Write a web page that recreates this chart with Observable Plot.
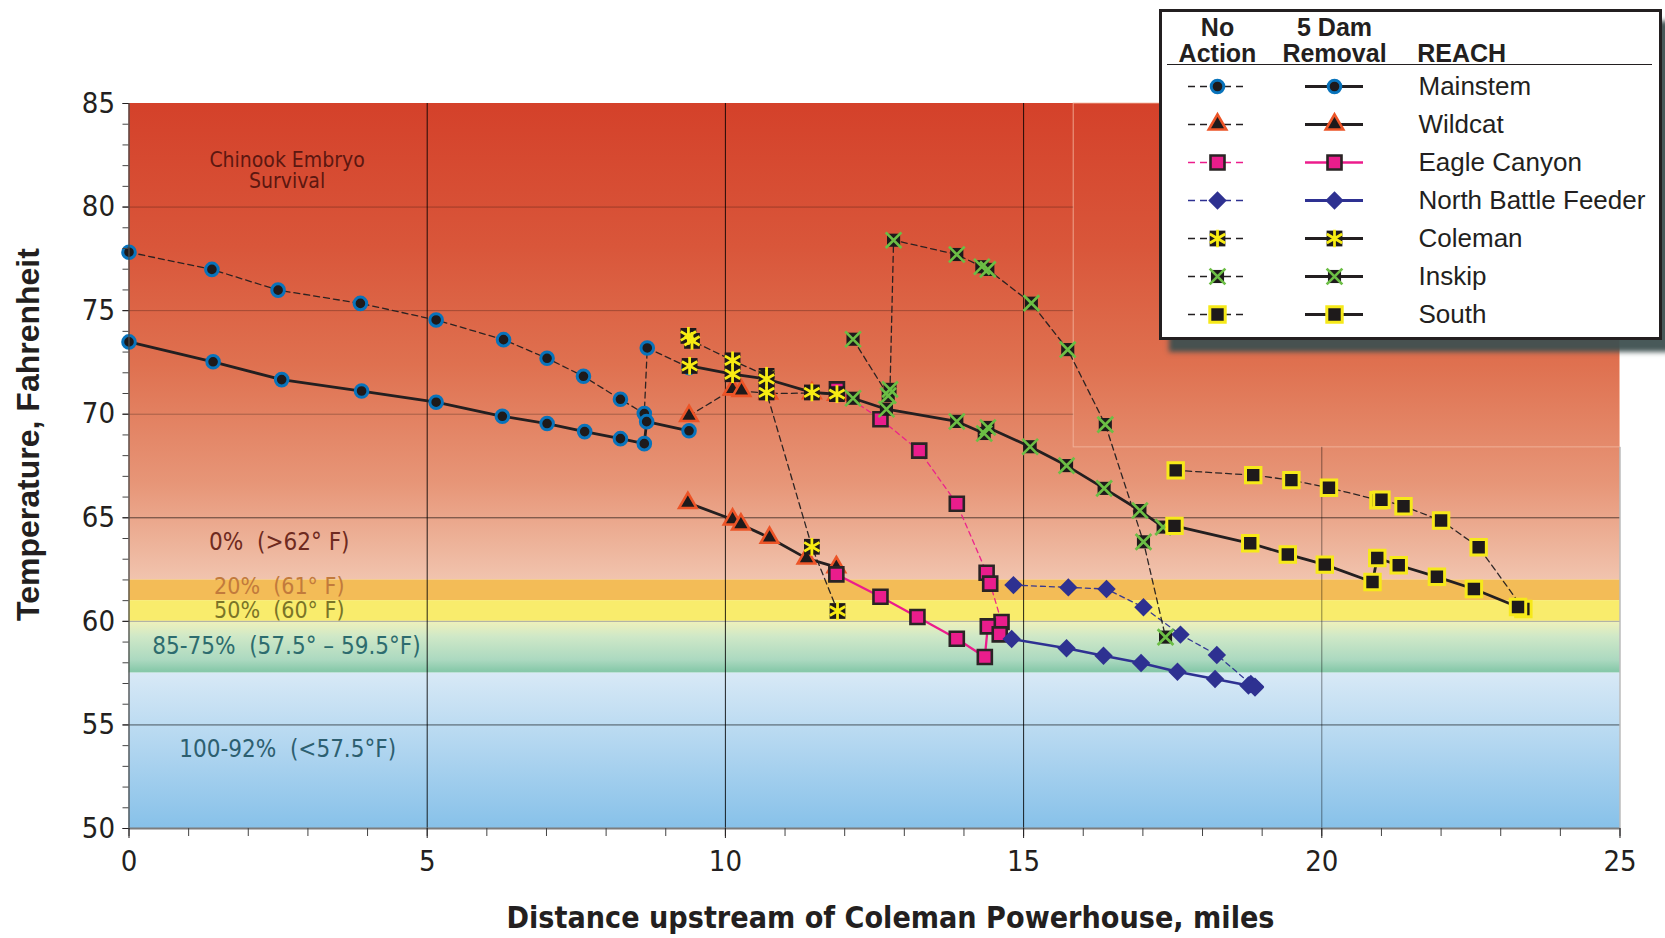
<!DOCTYPE html>
<html><head><meta charset="utf-8">
<script src="https://cdn.jsdelivr.net/npm/d3@7"></script>
<script src="https://cdn.jsdelivr.net/npm/@observablehq/plot@0.6"></script>
<style>
body{margin:0;background:#fff;}
#wrap{position:relative;width:1665px;height:938px;overflow:hidden;background:#fff;}
#chart{position:absolute;left:0;top:0;}
#chart text,#legend text{white-space:pre;}
#legend{position:absolute;left:1159px;top:9px;width:497px;height:325px;border:3px solid #231f20;background:#fff;box-shadow:10px 12px 5px rgba(62,80,80,0.95);}
#legend .hr{position:absolute;left:5px;top:51.5px;width:485px;height:1.6px;background:#231f20;}
#legend svg{position:absolute;left:0;top:0;}
</style></head><body>
<svg width="0" height="0" style="position:absolute"><defs>
<linearGradient id="gRed" x1="0" y1="0" x2="0" y2="1">
<stop offset="0" stop-color="#d4412a"/><stop offset="0.3" stop-color="#d9563a"/><stop offset="0.55" stop-color="#df7150"/><stop offset="0.8" stop-color="#e79678"/><stop offset="1" stop-color="#f1c4ae"/>
</linearGradient>
<linearGradient id="gGreen" x1="0" y1="0" x2="0" y2="1">
<stop offset="0" stop-color="#f0f1ba"/><stop offset="0.3" stop-color="#cfe8c7"/><stop offset="0.75" stop-color="#acd9c0"/><stop offset="0.96" stop-color="#88c9aa"/><stop offset="1" stop-color="#86c8a8"/>
</linearGradient>
<linearGradient id="gBlue" x1="0" y1="0" x2="0" y2="1">
<stop offset="0" stop-color="#d8e9f6"/><stop offset="1" stop-color="#87c1e9"/>
</linearGradient>
</defs></svg>
<div id="wrap"><div id="chart"></div><div id="legend"><div class="hr"></div></div></div>
<script>
// ---------- data (distance in miles, temperature in °F) ----------
const reaches = ["Mainstem","Wildcat","Eagle Canyon","North Battle Feeder","Coleman","Inskip","South"];
const scenarios = ["No Action","5 Dam Removal"];

const mainstemNoAction   = [[0,77.82],[1.39,76.99],[2.5,75.99],[3.88,75.35],[5.15,74.55],[6.28,73.6],[7.01,72.7],[7.62,71.83],[8.24,70.72],[8.64,70.03],[8.69,73.2],[9.39,72.25]];
const mainstemDamRemoval = [[0,73.49],[1.41,72.53],[2.56,71.67],[3.9,71.12],[5.15,70.58],[6.26,69.9],[7.01,69.55],[7.64,69.16],[8.24,68.82],[8.64,68.58],[8.68,69.64],[9.39,69.2]];
const wildcatNoAction    = [[9.39,69.92],[10.12,71.2],[10.27,71.13],[10.72,71.0],[11.45,71.02],[11.87,70.95]];
const wildcatDamRemoval  = [[9.37,65.72],[10.12,64.92],[10.26,64.68],[10.74,64.04],[11.36,63.04],[11.86,62.62]];
const eagleNoAction      = [[11.87,71.2],[12.6,69.76],[13.25,68.24],[13.88,65.68],[14.38,62.35],[14.44,61.82],[14.63,59.97]];
const eagleDamRemoval    = [[11.86,62.27],[12.6,61.19],[13.22,60.21],[13.88,59.16],[14.35,58.28],[14.4,59.76],[14.6,59.37]];
const nbfNoAction        = [[14.83,61.75],[15.75,61.64],[16.39,61.56],[17.01,60.68],[17.63,59.36],[18.24,58.38],[18.81,56.98],[18.88,56.85]];
const nbfDamRemoval      = [[14.8,59.15],[15.72,58.7],[16.34,58.34],[16.97,57.99],[17.58,57.57],[18.21,57.22],[18.77,56.9],[18.88,56.81]];
const colemanNoAction    = [[9.38,73.78],[9.44,73.54],[10.12,72.6],[10.69,71.85],[10.69,71.05],[11.45,63.6],[11.88,60.5]];
const colemanDamRemoval  = [[9.4,72.33],[10.12,71.93],[10.69,71.7],[11.45,71.05],[11.87,70.97]];
const inskipNoAction     = [[12.14,73.62],[12.73,70.9],[12.76,71.2],[12.82,78.4],[13.88,77.71],[14.3,77.12],[14.4,76.99],[15.13,75.36],[15.74,73.12],[16.37,69.5],[17.01,63.84],[17.38,59.24]];
const inskipDamRemoval   = [[12.14,70.77],[12.7,70.24],[13.88,69.65],[14.34,69.07],[14.4,69.36],[15.11,68.43],[15.72,67.52],[16.35,66.42],[16.95,65.35],[17.34,64.55]];
const southNoAction      = [[17.55,67.29],[18.85,67.06],[19.49,66.82],[20.12,66.45],[20.95,65.85],[21.0,65.87],[21.37,65.56],[22.0,64.87],[22.63,63.58],[23.38,60.6]];
const southDamRemoval    = [[17.53,64.61],[18.8,63.77],[19.43,63.23],[20.05,62.74],[20.85,61.9],[20.93,63.06],[21.29,62.71],[21.93,62.15],[22.55,61.56],[23.29,60.69]];

const xTicks = [0,5,10,15,20,25];
const yTicks = [50,55,60,65,70,75,80,85];

// survival bands (°F)
const bandLow  = [62, 61, 60, 57.5, 50];
const bandHigh = [85, 62, 61, 60, 57.5];
const bandText = ["Chinook Embryo\nSurvival","0%  (>62° F)","20%  (61° F)","50%  (60° F)","85-75%  (57.5° – 59.5°F)","100-92%  (<57.5°F)"];
const bandTextX = [2.65,2.52,2.52,2.52,2.64,2.66];
const bandTextY = [81.75,63.84,61.66,60.52,58.81,53.84];

// ---------- styles ----------
const bandFill = ["url(#gRed)","#f3bc57","#f9ec6c","url(#gGreen)","url(#gBlue)"];
const bandTextColor = ["#5c1710","#6e2a20","#c27a3c","#7a7428","#2d6c6e","#2d5f70"];
const bandTextSize = [21,24,23,23,24,24];
const bandLineHeight = [1.0,1,1,1,1,1];
const INK = "#1e1a1b";
const seriesData = {
  "Mainstem": [mainstemNoAction, mainstemDamRemoval],
  "Wildcat": [wildcatNoAction, wildcatDamRemoval],
  "Eagle Canyon": [eagleNoAction, eagleDamRemoval],
  "North Battle Feeder": [nbfNoAction, nbfDamRemoval],
  "Coleman": [colemanNoAction, colemanDamRemoval],
  "Inskip": [inskipNoAction, inskipDamRemoval],
  "South": [southNoAction, southDamRemoval]
};
const lineStyle = {
  "Mainstem": {color:"#231f20", dash:"6,4", dam:2.8},
  "Wildcat": {color:"#231f20", dash:"6,4", dam:2.8},
  "Eagle Canyon": {color:"#ec1c8c", dash:"5,4", dam:2.3},
  "North Battle Feeder": {color:"#2e3192", dash:"5,4", dam:2.6},
  "Coleman": {color:"#231f20", dash:"6,4", dam:2.8},
  "Inskip": {color:"#231f20", dash:"6,4", dam:2.8},
  "South": {color:"#231f20", dash:"6,4", dam:2.8}
};
const markerStyle = {
  "Mainstem": [{symbol:"circle", r:6.3, fill:INK, stroke:"#0873bb", strokeWidth:3}],
  "Wildcat": [{symbol:"triangle", r:6.5, fill:INK, stroke:"#ec5427", strokeWidth:2.6}],
  "Eagle Canyon": [{symbol:"square", r:7.9, fill:"#ea1d8c", stroke:"#2a2425", strokeWidth:2.6}],
  "North Battle Feeder": [{symbol:"diamond2", r:8.3, fill:"#2e3191"}],
  "Coleman": [{symbol:"square", r:8.9, fill:INK}, {symbol:"asterisk", r:8.4, fill:"none", stroke:"#f7ec13", strokeWidth:2.8}],
  "Inskip": [{symbol:"square", r:7.4, fill:INK}, {symbol:"times", r:7.2, fill:"none", stroke:"#6cbe45", strokeWidth:2.7}],
  "South": [{symbol:"square", r:8.7, fill:INK, stroke:"#f6e91a", strokeWidth:3}]
};
const NARROW = "'Liberation Sans Narrow','Arial Narrow','DejaVu Sans Condensed',sans-serif";
const ARIAL = "'Liberation Sans',Arial,sans-serif";
const TAHOMA = "'DejaVu Sans Condensed','DejaVu Sans',sans-serif";

function markers(data, chans, reach) {
  return markerStyle[reach].map(s => Plot.dot(data, {...chans, ...s}));
}

// ---------- chart ----------
const marks = [];
bandLow.forEach((lo, i) => {
  marks.push(Plot.rect([{lo, hi: bandHigh[i]}], {x1: () => xTicks[0], x2: () => xTicks[xTicks.length-1], y1: "lo", y2: "hi", fill: bandFill[i]}));
});
// faint old plot-area outline in upper right
marks.push(Plot.rect([{x1:15.84, x2:25, y1:68.4, y2:85}], {x1:"x1", x2:"x2", y1:"y1", y2:"y2", fill:"none", stroke:"#f4b9a2", strokeOpacity:0.8, strokeWidth:1}));
// gridlines
marks.push(Plot.ruleY([70,75,80], {x1: 0, x2: 15.84, stroke:"#000", strokeOpacity:0.27}));
marks.push(Plot.ruleY([55,65], {stroke:"#000", strokeOpacity:0.62}));
marks.push(Plot.ruleY([60], {stroke:"#9e9e9e", strokeOpacity:0.9}));
marks.push(Plot.ruleX([5,10,15], {stroke:"#000", strokeOpacity:0.85}));
marks.push(Plot.ruleX([20], {y1:50, y2:68.4, stroke:"#000", strokeOpacity:0.45}));
marks.push(Plot.ruleX([25], {y1:50, y2:68.4, stroke:"#9a9a9a"}));
// band annotations
bandText.forEach((t, i) => {
  marks.push(Plot.text([{t, x: bandTextX[i], y: bandTextY[i]}], {x:"x", y:"y", text:"t", fill: bandTextColor[i], fontSize: bandTextSize[i], lineHeight: bandLineHeight[i], fontFamily:TAHOMA}));
});

// series
for (const reach of reaches) {
  const st = lineStyle[reach];
  const [na, dam] = seriesData[reach];
  const naRows = na.map(([x,y]) => ({x,y}));
  const damRows = dam.map(([x,y]) => ({x,y}));
  marks.push(Plot.line(naRows, {x:"x", y:"y", stroke: st.color, strokeWidth:1.3, strokeDasharray: st.dash, strokeOpacity:0.95}));
  marks.push(Plot.line(damRows, {x:"x", y:"y", stroke: st.color, strokeWidth: st.dam}));
  marks.push(...markers(naRows, {x:"x", y:"y"}, reach));
  marks.push(...markers(damRows, {x:"x", y:"y"}, reach));
}

// axes
marks.push(Plot.ruleX([0], {stroke:"#4a4a4a", strokeWidth:1.3}));
marks.push(Plot.ruleY([50], {stroke:"#7d7d7d", strokeWidth:2}));
marks.push(Plot.axisY({ticks: d3.range(50, 86, 1), tickSize:6, tickFormat: () => "", label:null, color:"#444"}));
marks.push(Plot.axisY({ticks: yTicks, tickSize:6, tickPadding:8, fontSize:29, fontFamily:NARROW, label:null, color:"#231f20"}));
marks.push(Plot.axisX({ticks: d3.range(0, 26, 1), tickSize:8, tickFormat: () => "", label:null, color:"#444"}));
marks.push(Plot.axisX({ticks: xTicks, tickSize:10, tickPadding:12, fontSize:29, fontFamily:NARROW, label:null, color:"#231f20"}));

const xTitle = "Distance upstream of Coleman Powerhouse, miles";
const yTitle = "Temperature, Fahrenheit";
marks.push(Plot.text([xTitle], {frameAnchor:"bottom", dx:16, dy:99, lineAnchor:"bottom", fontSize:30, fontWeight:"bold", fontFamily:NARROW, fill:"#231f20"}));
marks.push(Plot.text([yTitle], {frameAnchor:"left", textAnchor:"middle", dx:-99.8, dy:-31.5, rotate:-90, fontSize:32, fontWeight:"bold", fontFamily:ARIAL, fill:"#231f20"}));

const chart = Plot.plot({
  width:1665, height:938,
  marginLeft:128.5, marginRight:45.5, marginTop:103, marginBottom:110,
  x:{domain:[0,25], label:null},
  y:{domain:[50,85], label:null},
  style:{background:"transparent", fontFamily:ARIAL, overflow:"visible"},
  marks
});
document.getElementById("chart").appendChild(chart);
chart.querySelectorAll("text").forEach(t => {
  if (t.textContent === xTitle) { t.setAttribute("textLength", 768); t.setAttribute("lengthAdjust", "spacingAndGlyphs"); }
});

// ---------- legend ----------
const legendRows = reaches.flatMap(reach => scenarios.map(col => ({reach, col})));
const lmarks = [];
for (const reach of reaches) {
  const st = lineStyle[reach];
  lmarks.push(Plot.tickY(legendRows.filter(d => d.reach === reach && d.col === scenarios[0]), {x:"col", y:"reach", stroke: st.color, strokeWidth:1.3, strokeDasharray:"7,5"}));
  lmarks.push(Plot.tickY(legendRows.filter(d => d.reach === reach && d.col === scenarios[1]), {x:"col", y:"reach", stroke: st.color, strokeWidth: st.dam + 0.4}));
  lmarks.push(...markers(legendRows.filter(d => d.reach === reach), {x:"col", y:"reach"}, reach));
}
lmarks.push(Plot.text(reaches, {y: d => d, frameAnchor:"left", dx:256, textAnchor:"start", fontSize:26, fontFamily:ARIAL, fill:"#231f20"}));
const head = [{col:scenarios[0], t:"No", b:23.5},{col:scenarios[0], t:"Action", b:49},{col:scenarios[1], t:"5 Dam", b:23.5},{col:scenarios[1], t:"Removal", b:49}];
for (const h of head) lmarks.push(Plot.text([h], {x:"col", text:"t", frameAnchor:"top", dy:h.b, lineAnchor:"bottom", fontSize:25, fontWeight:"bold", fontFamily:ARIAL, fill:"#231f20"}));
lmarks.push(Plot.text(["REACH"], {frameAnchor:"top-left", dx:254.7, dy:49, lineAnchor:"bottom", textAnchor:"start", fontSize:25, fontWeight:"bold", fontFamily:ARIAL, fill:"#231f20"}));

const legend = Plot.plot({
  width:497, height:325, margin:0,
  x:{type:"band", domain:scenarios, range:[25.7,201], paddingInner:0.5055, paddingOuter:0, axis:null},
  y:{type:"point", domain:reaches, range:[73,303], padding:0, axis:null},
  style:{background:"transparent", fontFamily:ARIAL, overflow:"visible"},
  marks: lmarks
});
document.getElementById("legend").appendChild(legend);
</script>
</body></html>
